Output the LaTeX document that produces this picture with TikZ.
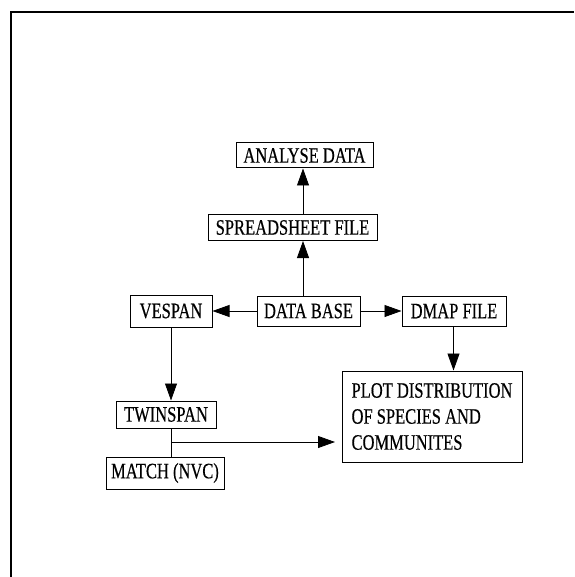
\documentclass[tikz,border=0pt]{standalone}
\usepackage{fontspec}
\setmainfont{Liberation Serif}[FakeStretch=0.75,FakeBold=0.4]
\usepackage{tikz}
\usetikzlibrary{arrows.meta}

\tikzset{
  box/.style={draw, line width=1pt, inner sep=3pt, align=left,
    font=\fontsize{22}{26}\selectfont},
  flow/.style={line width=0.8pt, -{Triangle[length=17pt,width=12pt]}}
}

\begin{document}
\begin{tikzpicture}[x=1pt,y=-1pt]
            \useasboundingbox (0,0) rectangle (574,577);
            \draw[line width=2.5pt] (11,577) -- (11,12) -- (574,12);
            \node[box, minimum width=137pt, minimum height=25pt] (analyse) at (304.5,155.5) {ANALYSE DATA};
            \node[box, minimum width=169pt, minimum height=26pt] (spread) at (292.5,227.5) {SPREADSHEET FILE};
            \node[box, minimum width=103pt, minimum height=30pt] (base) at (308.5,311) {DATA BASE};
            \node[box, minimum width=82pt, minimum height=32pt] (vespan) at (171,311) {VESPAN};
            \node[box, minimum width=104pt, minimum height=30pt] (dmap) at (454,311) {DMAP FILE};
            \node[box, minimum width=180pt, minimum height=91pt] (plot) at (432,416.5) {PLOT DISTRIBUTION\\OF SPECIES AND\\COMMUNITES};
            \node[box, minimum width=100pt, minimum height=27pt] (twin) at (166,414.5) {TWINSPAN};
            \node[box, minimum width=118pt, minimum height=32pt] (match) at (165,473) {MATCH (NVC)};
            \coordinate (split) at (171,442);
            \coordinate (tip) at (335,442);
            \draw[flow] (base.north -| 303,0) -- (spread.south -| 303,0);
            \draw[flow] (spread.north -| 303,0) -- (analyse.south -| 303,0);
            \draw[flow] (base) -- (vespan);
            \draw[flow] (base) -- (dmap);
            \draw[flow] (dmap.south -| 453.5,0) -- (plot.north -| 453.5,0);
            \draw[flow] (vespan.south -| split) -- (twin.north -| split);
            \draw[line width=0.8pt] (twin.south -| split) -- (match.north -| split);
            \draw[flow] (split) -- (tip);
        \end{tikzpicture}
\end{document}
